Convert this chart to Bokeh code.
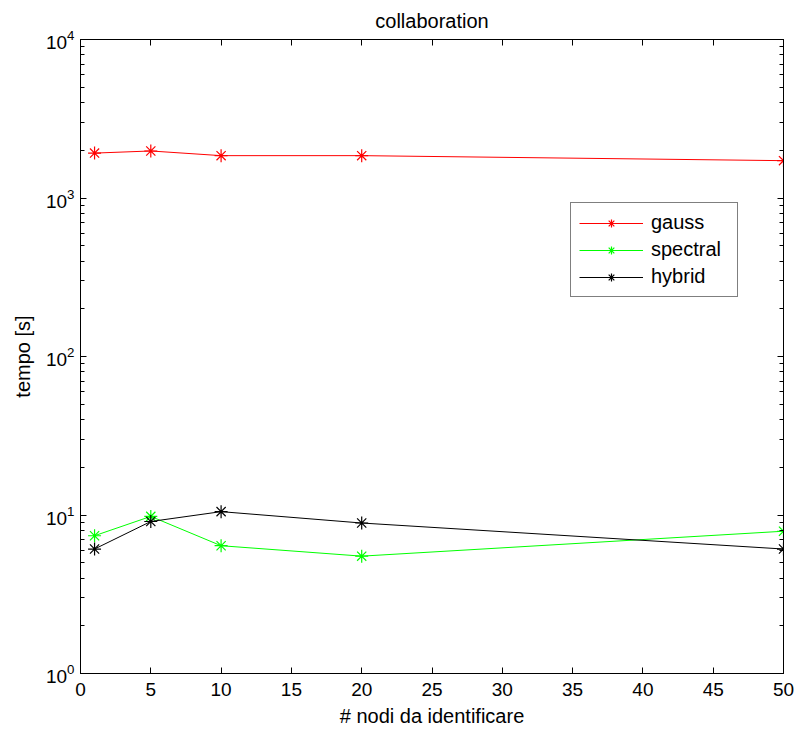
from bokeh.plotting import figure
from bokeh.models import LinearAxis, LogAxis, FixedTicker, Legend, LegendItem
from bokeh.embed import file_html
from bokeh.resources import INLINE

# number of nodes to identify
nodes = [1, 5, 10, 20, 50]

# run time in seconds per method
gauss = [1920, 1980, 1850, 1850, 1720]
spectral = [7.4, 9.8, 6.4, 5.5, 7.9]
hybrid = [6.1, 9.1, 10.5, 8.9, 6.1]

x_ticks = list(range(0, 55, 5))
y_ticks = [1, 10, 100, 1000, 10000]
y_minor = [m * d for d in (1, 10, 100, 1000) for m in range(2, 10)]

FONT = "Liberation Sans"

p = figure(
    width=795, height=733,
    x_range=(0, 50), y_range=(1, 10000),
    y_axis_type="log",
    output_backend="svg", toolbar_location=None,
    title="collaboration",
)
p.frame_width = 703
p.frame_height = 634
p.min_border_left = 80
p.min_border_right = 12
p.min_border_top = 39
p.min_border_bottom = 59

p.title.align = "center"
p.title.text_font = FONT
p.title.text_font_size = "20px"
p.title.text_font_style = "normal"
p.title.text_color = "black"
p.title.text_line_height = 0.9
p.title.standoff = 15

p.xgrid.visible = False
p.ygrid.visible = False
p.outline_line_color = "black"
p.outline_line_width = 1
p.background_fill_color = "white"
p.border_fill_color = "white"

xt = FixedTicker(ticks=x_ticks, minor_ticks=[])
yt = FixedTicker(ticks=y_ticks, minor_ticks=y_minor)


def style_axis(ax):
    ax.axis_line_color = "black"
    ax.axis_line_width = 1
    ax.major_tick_in = 6
    ax.major_tick_out = 0
    ax.minor_tick_in = 4
    ax.minor_tick_out = 0
    ax.major_tick_line_color = "black"
    ax.minor_tick_line_color = "black"
    ax.major_label_text_font = FONT
    ax.major_label_text_font_size = "19px"
    ax.major_label_text_color = "black"
    ax.axis_label_text_font = FONT
    ax.axis_label_text_font_size = "20px"
    ax.axis_label_text_font_style = "normal"
    ax.axis_label_text_color = "black"


xa = p.xaxis[0]
xa.ticker = xt
xa.axis_label = "# nodi da identificare"
xa.minor_tick_line_color = None
style_axis(xa)
xa.major_label_standoff = 9
xa.axis_label_standoff = 6

ya = p.yaxis[0]
ya.ticker = yt
ya.axis_label = "tempo [s]"
style_axis(ya)
ya.major_label_standoff = 6
ya.axis_label_standoff = 9

# box axes on top and right: ticks only
top = LinearAxis(ticker=xt, major_label_overrides={t: "" for t in x_ticks})
style_axis(top)
top.minor_tick_line_color = None
top.major_label_standoff = 0
top.major_label_text_font_size = "1px"
p.add_layout(top, "above")

right = LogAxis(ticker=yt, major_label_overrides={t: "" for t in y_ticks})
style_axis(right)
right.major_label_standoff = 0
right.major_label_text_font_size = "4px"
p.add_layout(right, "right")

series = [("gauss", gauss, "#ff0000"), ("spectral", spectral, "#00ff00"), ("hybrid", hybrid, "black")]
items = []
for name, vals, col in series:
    ln = p.line(nodes, vals, line_color=col, line_width=1)
    mk = p.scatter(nodes, vals, marker="asterisk", size=13, line_color=col, line_width=1.2)
    items.append(LegendItem(label=name, renderers=[ln, mk]))

legend = Legend(
    items=items,
    location=(490, 376),
    border_line_color="black",
    border_line_width=1,
    background_fill_color="white",
    background_fill_alpha=1,
    label_text_font=FONT,
    label_text_font_size="20px",
    label_text_color="black",
    glyph_width=64,
    glyph_height=20,
    label_height=20,
    label_width=78,
    label_standoff=8,
    padding=8,
    spacing=4,
    margin=0,
)
p.add_layout(legend, "center")

open("out.html", "w").write(file_html(p, INLINE))
